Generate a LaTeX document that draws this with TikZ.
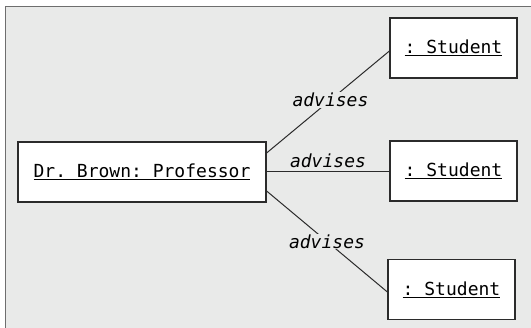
\documentclass[tikz,border=0pt]{standalone}
\usepackage{fontspec}
\setmonofont{DejaVu Sans Mono}
\usepackage{tikz}
\usetikzlibrary{positioning}
\definecolor{panelgray}{HTML}{E9EAE9}
\definecolor{framegray}{HTML}{6E6E6E}
\definecolor{inkdark}{HTML}{2B2B2B}
\newcommand{\objname}[1]{\underline{#1}}

\begin{document}
\begin{tikzpicture}[x=1pt, y=-1pt,
    every node/.style={font=\ttfamily\fontsize{18}{21}\selectfont},
    object/.style={rectangle, draw=inkdark, fill=white, line width=1.2pt, inner sep=0pt, minimum height=60pt},
    link/.style={draw=inkdark, line width=1pt},
    role/.style={font=\ttfamily\itshape\fontsize{18}{21}\selectfont, fill=panelgray, inner sep=1pt}
]
% Frame
\clip (0,0) rectangle (531,328);
\draw[framegray, fill=panelgray, line width=1.5pt] (5.5,6.5) rectangle (540,340);

% Objects
\node[object, minimum width=248pt] (prof) at (142,172) {\objname{Dr. Brown: Professor}};
\node[object, minimum width=127pt] (stu1) at (453.5,48) {\objname{: Student}};
\node[object, minimum width=127pt] (stu2) at (453.5,171) {\objname{: Student}};
\node[object, minimum width=127pt] (stu3) at (451.5,289.5) {\objname{: Student}};

% Links
\draw[link] (prof.east |- 0,153) -- (stu1.west |- 0,51) node[role, pos=0.52] {advises};
\draw[link] (prof.east |- 0,172) -- (stu2.west |- 0,172) node[role, midway, above, fill=none, inner sep=4pt] {advises};
\draw[link] (prof.east |- 0,191) -- (stu3.west |- 0,292) node[role, pos=0.5] {advises};
\end{tikzpicture}
\end{document}
